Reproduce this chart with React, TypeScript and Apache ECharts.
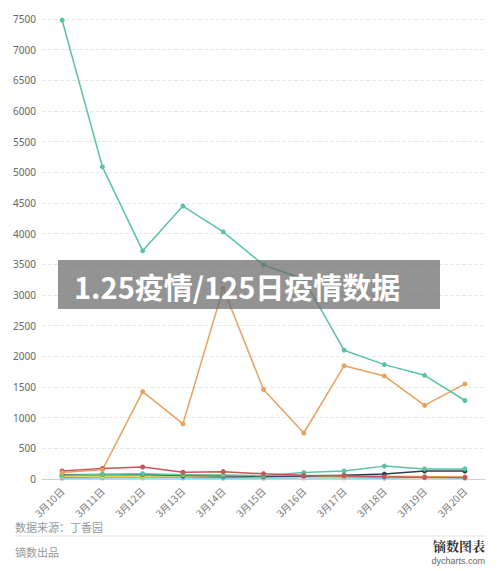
import React, { useEffect, useRef } from "react";
import * as echarts from "echarts";

const categories = ["3月10日", "3月11日", "3月12日", "3月13日", "3月14日", "3月15日", "3月16日", "3月17日", "3月18日", "3月19日", "3月20日"];
const yTicks = [0, 500, 1000, 1500, 2000, 2500, 3000, 3500, 4000, 4500, 5000, 5500, 6000, 6500, 7000, 7500];

const greenMain = [7480, 5090, 3720, 4450, 4030, 3490, 3260, 2100, 1865, 1690, 1280];
const orange = [105, 150, 1425, 900, 3110, 1460, 750, 1845, 1680, 1200, 1550];
const red = [130, 172, 195, 110, 120, 85, 60, 50, 35, 30, 25];
const navy = [70, 75, 75, 60, 55, 45, 50, 60, 80, 130, 130];
const green2 = [60, 75, 85, 70, 65, 55, 105, 130, 210, 165, 165];
const yellow = [40, 45, 45, 55, 50, 35, 30, 40, 50, 40, 35];
const lightBlue = [10, 15, 15, 15, 10, 10, 15, 15, 10, 40, 10];
const blue = [30, 35, 40, 35, 30, 30, 40, 45, 40, 30, 30];
const khaki = [50, 55, 50, 40, 45, 30, 25, 25, 20, 20, 20];

const seriesDefs = [
  { name: "khaki", data: khaki, color: "#b4b07a" },
  { name: "lightBlue", data: lightBlue, color: "#92d3ea" },
  { name: "blue", data: blue, color: "#3c9fc9" },
  { name: "yellow", data: yellow, color: "#f2d55c" },
  { name: "navy", data: navy, color: "#2f3e52" },
  { name: "green2", data: green2, color: "#5bc49f" },
  { name: "red", data: red, color: "#c9545a" },
  { name: "orange", data: orange, color: "#e8a15e" },
  { name: "greenMain", data: greenMain, color: "#5bc49f" },
];

export default function App() {
  const ref = useRef<HTMLDivElement>(null);
  useEffect(() => {
    if (!ref.current) return;
    const chart = echarts.init(ref.current, null, { renderer: "svg" });
    chart.setOption({
      animation: false,
      backgroundColor: "#ffffff",
      grid: { left: 42, right: 15, top: 19, bottom: 92, containLabel: false },
      xAxis: {
        type: "category",
        data: categories,
        boundaryGap: true,
        axisLine: { lineStyle: { color: "#d0d0d0" } },
        axisTick: { show: false },
        axisLabel: { rotate: 45, fontSize: 10, color: "#777", margin: 10, interval: 0, fontFamily: "Noto Sans CJK SC" },
      },
      yAxis: {
        type: "value",
        min: yTicks[0],
        max: yTicks[yTicks.length - 1],
        interval: 500,
        axisLine: { show: false },
        axisTick: { show: false },
        axisLabel: { fontSize: 10, color: "#666", margin: 6, fontFamily: "Noto Sans", formatter: (v: number) => String(v) },
        splitLine: { lineStyle: { color: "#e8e8e8", type: "dashed" } },
      },
      series: seriesDefs.map((s) => ({
        name: s.name,
        type: "line",
        data: s.data,
        symbol: "circle",
        symbolSize: 5,
        showSymbol: true,
        lineStyle: { width: 1.5, color: s.color },
        itemStyle: { color: s.color },
      })),
      graphic: [
        {
          type: "rect",
          shape: { x: 58, y: 260, width: 382, height: 49 },
          style: { fill: "rgba(105,105,105,0.72)" },
          z: 100,
        },
        {
          type: "text",
          x: 74,
          y: 286,
          style: {
            text: "1.25疫情/125日疫情数据",
            fill: "#ffffff",
            font: "bold 29px 'Noto Sans CJK SC'",
            verticalAlign: "middle",
          },
          z: 101,
        },
        {
          type: "text",
          x: 15,
          y: 527,
          style: { text: "数据来源：丁香园", fill: "#999", font: "11px 'Noto Sans CJK SC'", verticalAlign: "middle" },
        },
        {
          type: "line",
          shape: { x1: 15, y1: 536, x2: 485, y2: 536 },
          style: { stroke: "#e3e3e3", lineWidth: 1 },
        },
        {
          type: "text",
          x: 15,
          y: 552,
          style: { text: "镝数出品", fill: "#999", font: "11px 'Noto Sans CJK SC'", verticalAlign: "middle" },
        },
        {
          type: "text",
          x: 485,
          y: 545,
          style: { text: "镝数图表", fill: "#333", font: "bold 13px 'Noto Serif CJK SC', 'Noto Sans CJK SC', serif", align: "right", verticalAlign: "middle" },
        },
        {
          type: "text",
          x: 485,
          y: 561,
          style: { text: "dycharts.com", fill: "#666", font: "9px 'Liberation Sans'", align: "right", verticalAlign: "middle" },
        },
      ],
    });
    return () => chart.dispose();
  }, []);
  return <div ref={ref} style={{ position: "fixed", left: 0, top: 0, width: 500, height: 571 }} />;
}
